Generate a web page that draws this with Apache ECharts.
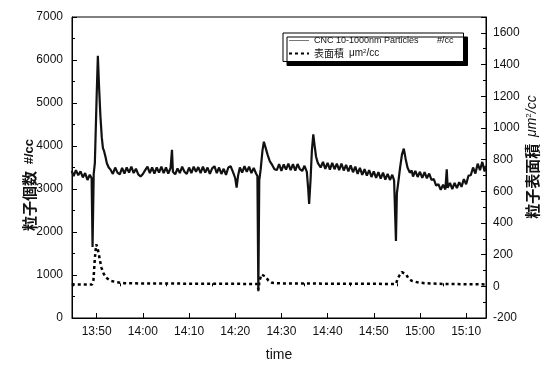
<!DOCTYPE html>
<html><head><meta charset="utf-8">
<script src="https://cdn.jsdelivr.net/npm/echarts@6/dist/echarts.min.js"></script>
<style>html,body{margin:0;padding:0;background:#fff}#c{width:544px;height:367px}</style>
</head><body><div id="c"></div>
<script>
// time in minutes after 13:00
const xMajorTicks = [50, 60, 70, 80, 90, 100, 110, 120, 130];
const xMinorTicks = [45, 55, 65, 75, 85, 95, 105, 115, 125];

const cncTime = [44.6,45.0,45.5,46.0,46.5,47.0,47.5,48.0,48.5,48.9,49.1,49.35,49.6,50.0,50.25,50.5,50.8,51.1,51.35,51.6,51.9,52.2,52.6,
53.0,53.5,54.0,54.5,55.0,55.5,56.0,56.5,57.0,57.5,58.0,58.5,59.0,59.5,60.0,60.5,61.0,61.5,62.0,62.5,63.0,63.5,64.0,64.5,65.0,65.5,66.0,66.3,66.5,67.0,67.5,68.0,68.5,69.0,69.5,70.0,70.5,71.0,71.5,72.0,72.5,73.0,73.5,74.0,74.5,75.0,75.5,76.0,76.5,77.0,77.5,78.0,78.5,79.0,79.5,80.0,80.3,80.6,81.0,81.5,82.0,82.5,83.0,83.5,84.0,84.5,84.8,
85.0,85.2,85.5,85.9,86.2,86.6,87.0,87.5,88.0,88.5,
89.0,89.5,90.0,90.5,91.0,91.5,92.0,92.5,93.0,93.5,94.0,94.5,95.0,95.5,95.8,96.0,96.3,96.6,96.9,97.2,97.5,97.9,98.3,
98.5,99.0,99.5,100.0,100.5,101.0,101.5,102.0,102.5,103.0,103.5,104.0,104.5,105.0,105.5,106.0,106.5,107.0,107.5,108.0,108.5,109.0,109.5,110.0,110.5,111.0,111.5,112.0,112.5,113.0,113.5,114.0,114.4,114.8,115.0,115.3,115.7,116.1,116.5,116.9,117.3,117.8,
118.2,118.5,119.0,119.5,120.0,120.5,121.0,121.5,122.0,122.5,123.0,123.5,124.0,124.5,125.0,125.5,125.8,126.0,126.5,127.0,127.5,128.0,128.5,129.0,129.5,130.0,130.5,131.0,131.5,132.0,132.5,133.0,133.5,134.0,134.3];
const cncValue = [3420,3300,3440,3320,3410,3270,3370,3210,3330,3250,1650,3350,3600,5200,6100,5400,4700,4200,3950,3880,3750,3600,3500,
3450,3350,3500,3380,3340,3490,3360,3500,3380,3520,3370,3470,3340,3290,3350,3440,3520,3370,3500,3360,3500,3380,3520,3370,3500,3360,3490,3910,3400,3340,3480,3370,3520,3400,3350,3500,3370,3520,3400,3510,3370,3520,3380,3500,3350,3480,3530,3370,3500,3350,3470,3330,3500,3530,3400,3250,3030,3300,3500,3380,3530,3400,3520,3370,3490,3360,3300,
625,3200,3450,3900,4100,3950,3800,3640,3560,3460,
3440,3580,3420,3570,3450,3590,3440,3580,3430,3580,3460,3420,3540,3400,3000,2650,3200,3900,4270,4000,3750,3600,3560,
3500,3630,3470,3610,3450,3610,3460,3590,3440,3590,3430,3560,3410,3550,3390,3520,3350,3490,3330,3460,3310,3440,3280,3410,3260,3390,3240,3380,3220,3350,3210,3330,3200,1790,2900,3150,3500,3800,3940,3700,3500,3380,
3430,3290,3420,3280,3400,3260,3390,3250,3360,3210,3230,3080,3110,2980,3100,2990,3460,3030,3140,3000,3140,3020,3160,3050,3230,3110,3310,3320,3500,3360,3590,3440,3630,3410,3540];

const areaTime = [44.6,49.0,49.3,49.6,49.9,50.2,50.6,51.0,51.5,52.0,53.0,54.5,56.0,60.0,84.8,85.0,85.3,85.7,86.1,86.6,87.2,88.0,90.0,114.8,115.2,115.6,116.1,116.5,117.0,117.5,118.2,119.5,121.0,125.0,134.3];
const areaValue = [12,12,40,180,265,240,180,120,80,55,35,25,20,18,15,-20,40,75,85,60,35,22,18,15,50,70,90,95,75,50,35,25,20,15,12];

const seriesNames = ['CNC 10-1000nm Particles', '表面積'];

const cncData = cncTime.map((t, i) => [t, cncValue[i]]);
const areaData = areaTime.map((t, i) => [t, areaValue[i]]);

const FONT = '"Liberation Sans", Arial, sans-serif';
const CJK = '"Noto Sans CJK JP", sans-serif';
const fmtTime = v => { const h = 13 + Math.floor(v / 60); const m = Math.round(v % 60); return h + ':' + (m < 10 ? '0' + m : m); };

const chart = echarts.init(document.getElementById('c'), null, {renderer: 'canvas'});
chart.setOption({
  animation: false,
  backgroundColor: '#fff',
  grid: {left: 72, right: 58, top: 17, bottom: 43, show: true, borderColor: '#000', borderWidth: 1, backgroundColor: 'transparent'},
  legend: {
    orient: 'vertical', left: 283, top: 33, padding: [3, 10, 3, 5],
    itemWidth: 20, itemHeight: 10, itemGap: 3,
    backgroundColor: '#fff', borderColor: '#000', borderWidth: 1,
    shadowColor: '#000', shadowOffsetX: 4, shadowOffsetY: 4, shadowBlur: 0,
    itemStyle: {opacity: 0},
    data: [
      {name: seriesNames[0], lineStyle: {width: 1, color: '#777'}},
      {name: seriesNames[1]}
    ],
    formatter: n => n === seriesNames[0] ? '{a|' + n + '}{b|#/cc}' : '{c|' + n + '}  {d|μm}{s|2}{d|/cc}',
    textStyle: {
      fontFamily: FONT, fontSize: 9, color: '#111',
      rich: {
        a: {fontFamily: FONT, fontSize: 9, width: 123, color: '#111'},
        b: {fontFamily: FONT, fontSize: 9, color: '#111'},
        c: {fontFamily: CJK, fontSize: 10, color: '#111'},
        d: {fontFamily: FONT, fontSize: 10, color: '#111'},
        s: {fontFamily: FONT, fontSize: 6, verticalAlign: 'top', padding: [0, 0, 5, 0], color: '#111'}
      }
    }
  },
  xAxis: [{
    type: 'value', min: 44.65, max: 134.3,
    name: 'time', nameLocation: 'middle', nameGap: 30,
    nameTextStyle: {fontFamily: FONT, fontSize: 14, color: '#111'},
    axisLine: {show: true, lineStyle: {color: '#000', width: 1}},
    axisTick: {show: true, inside: true, length: 5, customValues: xMajorTicks, lineStyle: {color: '#000'}},
    axisLabel: {customValues: xMajorTicks, formatter: fmtTime, fontFamily: FONT, fontSize: 12, color: '#111', margin: 8},
    splitLine: {show: false}
  }, {
    type: 'value', min: 44.65, max: 134.3, position: 'bottom',
    axisLine: {show: false},
    axisTick: {show: true, inside: true, length: 3, customValues: xMinorTicks, lineStyle: {color: '#000'}},
    axisLabel: {show: false},
    splitLine: {show: false}
  }],
  yAxis: [{
    type: 'value', min: 0, max: 7000, interval: 1000, position: 'left',
    axisLine: {show: true, lineStyle: {color: '#000', width: 1}},
    axisTick: {show: true, inside: true, length: 5, lineStyle: {color: '#000'}},
    minorTick: {show: true, splitNumber: 2, length: 3, lineStyle: {color: '#000'}},
    axisLabel: {fontFamily: FONT, fontSize: 12, color: '#111', margin: 9, formatter: v => String(v)},
    splitLine: {show: false}
  }, {
    type: 'value', min: -200, max: 1700, interval: 200, position: 'right',
    axisLine: {show: true, lineStyle: {color: '#000', width: 1}},
    axisTick: {show: true, inside: true, length: 5, lineStyle: {color: '#000'}},
    minorTick: {show: true, splitNumber: 2, length: 3, lineStyle: {color: '#000'}},
    axisLabel: {fontFamily: FONT, fontSize: 12, color: '#111', margin: 7, showMaxLabel: false,
      formatter: v => v > 1600 ? '' : String(v)},
    splitLine: {show: false}
  }],
  graphic: [
    {type: 'text', x: 29, y: 185, rotation: Math.PI / 2,
     style: {text: '{a|粒子個数}  {b|#/cc}', align: 'center', verticalAlign: 'middle',
       rich: {a: {fontFamily: CJK, fontWeight: 'bold', fontSize: 15, fill: '#111'},
              b: {fontFamily: FONT, fontWeight: 'bold', fontSize: 13, fill: '#111'}}}},
    {type: 'text', x: 532, y: 157, rotation: Math.PI / 2,
     style: {text: '{a|粒子表面積}  {b|μm}{s|2}{b|/cc}', align: 'center', verticalAlign: 'middle',
       rich: {a: {fontFamily: CJK, fontWeight: 'bold', fontSize: 15, fill: '#111'},
              b: {fontFamily: FONT, fontStyle: 'italic', fontSize: 14, fill: '#111'},
              s: {fontFamily: FONT, fontSize: 8, verticalAlign: 'top', fill: '#111'}}}}
  ],
  series: [{
    name: seriesNames[0], type: 'line', xAxisIndex: 0, yAxisIndex: 0,
    data: cncData, symbol: 'none', z: 3,
    itemStyle: {color: '#111'},
    lineStyle: {color: '#111', width: 2.2}
  }, {
    name: seriesNames[1], type: 'line', xAxisIndex: 0, yAxisIndex: 1,
    data: areaData, symbol: 'none', z: 2,
    itemStyle: {color: '#000'},
    lineStyle: {color: '#000', width: 2.5, type: [3, 3]}
  }]
});
</script></body></html>
